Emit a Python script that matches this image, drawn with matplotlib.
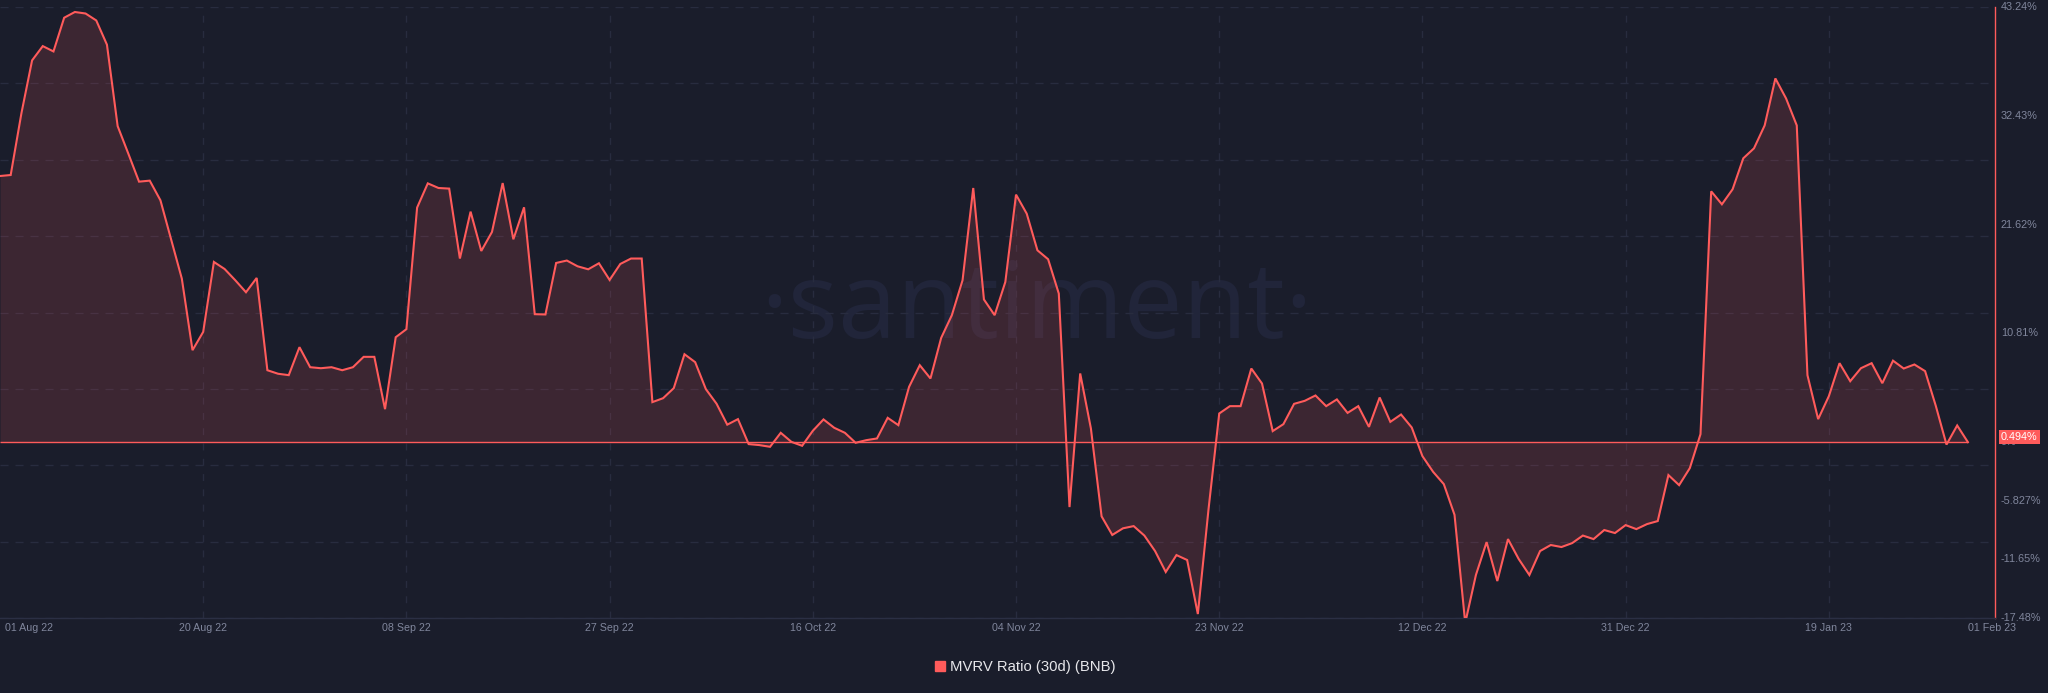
import numpy as np
import pandas as pd
import matplotlib
matplotlib.use("Agg")
import matplotlib.pyplot as plt
from matplotlib.lines import Line2D
from matplotlib.transforms import ScaledTranslation

plt.rcParams['font.family'] = ['Liberation Sans', 'DejaVu Sans']
plt.rcParams['lines.scale_dashes'] = False

# ---------------- data ----------------
dates = pd.date_range("2022-08-01", "2023-02-01", freq="D")
mvrv = [
    26.94, 27.04, 33.16, 38.43, 39.85, 39.32, 42.67, 43.24, 43.09, 42.40,
    39.99, 31.90, 29.16, 26.38, 26.48, 24.53, 20.62, 16.75, 9.63, 11.45,
    18.40, 17.70, 16.58, 15.39, 16.81, 7.64, 7.29, 7.15, 9.93, 7.94,
    7.84, 7.94, 7.64, 7.94, 8.97, 8.97, 3.77, 10.92, 11.72, 23.80,
    26.21, 25.75, 25.69, 18.74, 23.40, 19.49, 21.38, 26.24, 20.65, 23.83,
    13.21, 13.18, 18.30, 18.54, 17.97, 17.67, 18.27, 16.61, 18.20, 18.74,
    18.74, 4.47, 4.86, 5.86, 9.23, 8.44, 5.76, 4.31, 2.23, 2.78,
    0.30, 0.20, 0.03, 1.42, 0.52, 0.13, 1.62, 2.75, 1.92, 1.42,
    0.43, 0.69, 0.86, 2.91, 2.18, 5.99, 8.14, 6.82, 10.85, 13.11,
    16.58, 25.75, 14.67, 13.11, 16.41, 25.09, 23.20, 19.56, 18.67, 15.26,
    -5.96, 7.32, 1.86, -6.88, -8.73, -8.07, -7.85, -8.79, -10.33, -12.41,
    -10.73, -11.22, -16.59, -6.16, 3.34, 4.07, 4.07, 7.81, 6.32, 1.59,
    2.28, 4.30, 4.60, 5.13, 4.07, 4.74, 3.40, 4.07, 2.01, 4.93,
    2.51, 3.24, 1.95, -0.90, -2.46, -3.68, -6.73, -17.48, -12.71, -9.44,
    -13.31, -9.14, -11.12, -12.71, -10.33, -9.73, -9.93, -9.54, -8.79, -9.14,
    -8.24, -8.54, -7.75, -8.15, -7.65, -7.35, -2.78, -3.78, -2.09, 1.29,
    25.42, 24.13, 25.62, 28.70, 29.69, 31.97, 36.64, 34.65, 31.97, 7.15,
    2.78, 5.06, 8.34, 6.55, 7.84, 8.34, 6.35, 8.59, 7.81, 8.21,
    7.55, 4.10, 0.25, 2.15, 0.494,
]
latest = 0.494

tick_dates = ["2022-08-01", "2022-08-20", "2022-09-08", "2022-09-27", "2022-10-16",
              "2022-11-04", "2022-11-23", "2022-12-12", "2022-12-31", "2023-01-19",
              "2023-02-01"]
tick_labels = ["01 Aug 22", "20 Aug 22", "08 Sep 22", "27 Sep 22", "16 Oct 22",
               "04 Nov 22", "23 Nov 22", "12 Dec 22", "31 Dec 22", "19 Jan 23",
               "01 Feb 23"]
y_ticks = [43.24, 32.43, 21.62, 10.81, 0.0, -5.827, -11.65, -17.48]
y_labels = ["43.24%", "32.43%", "21.62%", "10.81%", "0%", "-5.827%", "-11.65%", "-17.48%"]
series_name = "MVRV Ratio (30d) (BNB)"

# ---------------- style ----------------
BG = "#1a1d2b"
RED = "#ff5b5b"
GRID = "#282c3f"
TXT = "#80869c"

W, H = 2048, 693
fig = plt.figure(figsize=(W / 100, H / 100), dpi=100, facecolor=BG)
ax_left, ax_right_px, ax_top_px, ax_bot_px = 0, 1995, 7, 618
ax = fig.add_axes([ax_left / W, 1 - ax_bot_px / H,
                   (ax_right_px - ax_left) / W, (ax_bot_px - ax_top_px) / H])
ax.set_facecolor(BG)

x = pd.to_datetime(dates)
tdates = pd.to_datetime(tick_dates)

# value scale: labels sit 5 px above their true level (as in the reference)
label_shift_px = 5
ymin, ymax = min(y_ticks), max(y_ticks)
per_px = (ymax - ymin) / (ax_bot_px - ax_top_px)
shift = label_shift_px * per_px
ax.set_ylim(ymin + shift, ymax + shift)

px_per_day = 10.695
span_days = (ax_right_px - ax_left) / px_per_day
ax.set_xlim(x[0], x[0] + pd.Timedelta(days=span_days))

# grid (evenly spaced, independent of labels)
ylo, yhi = ax.get_ylim()
for gy in np.linspace(ylo, yhi, 9):
    ax.axhline(gy, color=GRID, lw=1.0, ls=(0, (5.8, 5.0)), zorder=0.6)
for gd in tdates[1:-1]:
    ax.axvline(gd, color=GRID, lw=1.0, ls=(0, (5.0, 6.0)), zorder=0.6)

# watermark
ax.text(1037 / W, 1 - 338 / H, "·santiment·", transform=fig.transFigure,
        ha="center", va="baseline", fontsize=76, color="#21253a",
        family=["Open Sans", "DejaVu Sans"], zorder=0.5)

# area + line
ax.fill_between(x, mvrv, latest, color=RED, alpha=0.15, lw=0, zorder=1)
ax.hlines(latest, x[0], x[-1], color=RED, lw=1.0, zorder=2)
ax.plot(x, mvrv, color=RED, lw=1.5, zorder=3, solid_joinstyle="miter")

# spines
for s in ["top", "left"]:
    ax.spines[s].set_visible(False)
ax.spines["right"].set_color(RED)
ax.spines["right"].set_linewidth(1.0)
ax.spines["bottom"].set_color("#2b2f44")
ax.spines["bottom"].set_linewidth(1.0)

# y labels on right (drawn as text so that the bottom one survives the shift)
ax.set_yticks([])
off_pt = label_shift_px * 0.72
for v, lab in zip(y_ticks, y_labels):
    ax.annotate(lab, xy=(1.0, v), xycoords=ax.get_yaxis_transform(),
                xytext=(4.3, off_pt), textcoords="offset points", ha="left",
                va="center", fontsize=7.8, color=TXT, annotation_clip=False,
                zorder=5)

# x ticks
ax.set_xticks(tdates)
ax.set_xticklabels(tick_labels)
ax.tick_params(axis="x", length=0, pad=3.8, labelsize=7.7, labelcolor=TXT)
xt = ax.get_xticklabels()
xt[0].set_ha("left")
xt[0].set_transform(xt[0].get_transform() + ScaledTranslation(5 / 100, 0, fig.dpi_scale_trans))
xt[-1].set_ha("left")

# latest value badge
ax.annotate(f"{latest}%", xy=(1.0, latest), xycoords=ax.get_yaxis_transform(),
            xytext=(4.3, off_pt), textcoords="offset points", ha="left", va="center",
            fontsize=7.8, color="white", zorder=10, annotation_clip=False,
            bbox=dict(boxstyle="square,pad=0.2", fc=RED, ec="none"))

# legend
handle = Line2D([], [], marker="s", color=RED, ls="None", markersize=6.5)
fig.legend([handle], [series_name], loc="center", bbox_to_anchor=(0.5, 1 - 667 / H),
           frameon=False, fontsize=10.7, labelcolor="#e6e6ea", handletextpad=0.15,
           handlelength=1.0)

fig.savefig("out.png", dpi=100, facecolor=BG)
